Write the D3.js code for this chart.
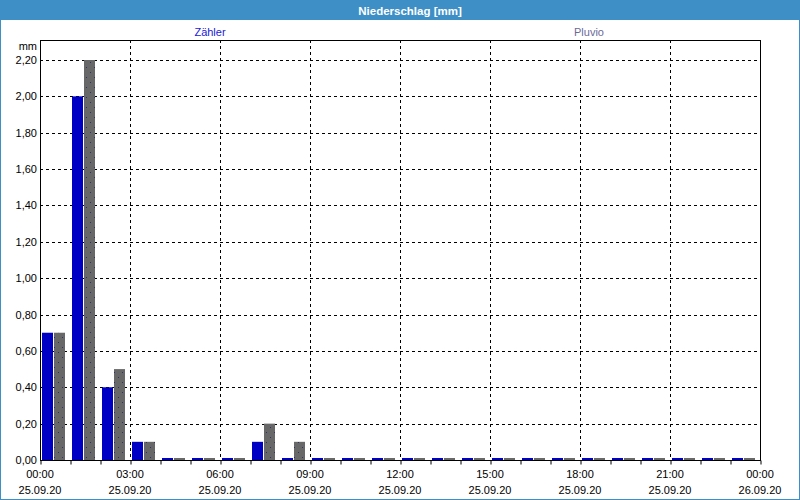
<!DOCTYPE html>
<html><head><meta charset="utf-8">
<script src="https://cdn.jsdelivr.net/npm/d3@7"></script>
<style>
html,body{margin:0;padding:0;background:#fff;}
svg{display:block;font-family:"Liberation Sans",Arial,sans-serif;}
</style></head>
<body><svg id="c" width="800" height="500"></svg>
<script>
const title = "Niederschlag [mm]";
const unitLabel = "mm";
const seriesNames = ["Zähler", "Pluvio"];
const hours = d3.range(0, 24);
const zaehler = [0.7, 2.0, 0.4, 0.1, 0, 0, 0, 0.1, 0, 0, 0, 0, 0, 0, 0, 0, 0, 0, 0, 0, 0, 0, 0, 0];
const pluvio  = [0.7, 2.2, 0.5, 0.1, 0, 0, 0, 0.2, 0.1, 0, 0, 0, 0, 0, 0, 0, 0, 0, 0, 0, 0, 0, 0, 0];
const yTicks = [0, 0.2, 0.4, 0.6, 0.8, 1.0, 1.2, 1.4, 1.6, 1.8, 2.0, 2.2];
const xTickHours = [0, 3, 6, 9, 12, 15, 18, 21, 24];
const xTimeLabels = ["00:00","03:00","06:00","09:00","12:00","15:00","18:00","21:00","00:00"];
const xDateLabels = ["25.09.20","25.09.20","25.09.20","25.09.20","25.09.20","25.09.20","25.09.20","25.09.20","26.09.20"];

const W = 800, H = 500;
const L = 40, R = 760, T = 40, B = 460;
const svg = d3.select("#c");
const frameBlue = "#3d8fc6";

// defs: dotted pattern for Pluvio bars
const defs = svg.append("defs");
const pat = defs.append("pattern").attr("id","dots").attr("patternUnits","userSpaceOnUse")
  .attr("width",8).attr("height",10);
pat.append("rect").attr("width",8).attr("height",10).attr("fill","#686868");
pat.append("rect").attr("x",2).attr("y",2).attr("width",1).attr("height",1).attr("fill","#30306a");
pat.append("rect").attr("x",6).attr("y",7).attr("width",1).attr("height",1).attr("fill","#30306a");

// outer frame + title bar
svg.append("rect").attr("x",0.5).attr("y",0.5).attr("width",W-1).attr("height",H-1)
  .attr("fill","#fff").attr("stroke",frameBlue);
svg.append("rect").attr("x",0).attr("y",0).attr("width",W).attr("height",20).attr("fill",frameBlue);
svg.append("text").attr("x",410).attr("y",14.5).attr("text-anchor","middle")
  .attr("fill","#fff").attr("font-weight","bold").attr("font-size",11.5).text(title);

// legend labels
svg.append("text").attr("x",210).attr("y",35.5).attr("text-anchor","middle")
  .attr("font-size",11).attr("fill","#2020d8").text(seriesNames[0]);
svg.append("text").attr("x",589).attr("y",35.5).attr("text-anchor","middle")
  .attr("font-size",11).attr("fill","#6a6a9a").text(seriesNames[1]);

const x = d3.scaleLinear().domain([0,24]).range([L,R]);
const y = d3.scaleLinear().domain([0,2.31]).range([B,T]);

// grid
const g = svg.append("g");
g.selectAll(".hg").data(yTicks.filter(v=>v>0)).join("line")
  .attr("x1",L).attr("x2",R)
  .attr("y1",d=>Math.round(y(d))+0.5).attr("y2",d=>Math.round(y(d))+0.5)
  .attr("stroke","#000").attr("stroke-dasharray","3,3");
g.selectAll(".vg").data(xTickHours.filter(v=>v>0&&v<24)).join("line")
  .attr("y1",T).attr("y2",B)
  .attr("x1",d=>Math.round(x(d))+0.5).attr("x2",d=>Math.round(x(d))+0.5)
  .attr("stroke","#000").attr("stroke-dasharray","3,3");

// bars
const bw = 11;
const barH = v => Math.max(B - y(v), 2);
svg.append("g").selectAll("rect").data(hours).join("rect")
  .attr("x",h=>x(h)+2).attr("width",bw)
  .attr("y",h=>B-barH(zaehler[h])).attr("height",h=>barH(zaehler[h]))
  .attr("fill","#0000c4");
svg.append("g").selectAll("rect").data(hours).join("rect")
  .attr("x",h=>x(h)+14).attr("width",bw)
  .attr("y",h=>B-barH(pluvio[h])).attr("height",h=>barH(pluvio[h]))
  .attr("fill","url(#dots)");

// plot border
svg.append("rect").attr("x",L+0.5).attr("y",T+0.5).attr("width",R-L).attr("height",B-T)
  .attr("fill","none").attr("stroke","#000");

// x axis: hourly ticks
const xAxis = d3.axisBottom(x).tickValues(d3.range(0,25)).tickSize(4).tickFormat("");
const xa = svg.append("g").attr("transform",`translate(0.5,${B+0.5})`).call(xAxis);
xa.select(".domain").remove();
xa.selectAll("line").attr("stroke","#000");

// x labels
const xl = svg.append("g").attr("font-size",11).attr("fill","#000").attr("text-anchor","middle");
xl.selectAll(".t").data(xTickHours).join("text").attr("x",d=>x(d)).attr("y",478).text((d,i)=>xTimeLabels[i]);
xl.selectAll(".d").data(xTickHours).join("text").attr("x",d=>x(d)).attr("y",494).text((d,i)=>xDateLabels[i]);

// y labels
const fmt = v => d3.format(".2f")(v).replace(".",",");
const yl = svg.append("g").attr("font-size",11).attr("fill","#000").attr("text-anchor","end");
yl.selectAll("text").data(yTicks).join("text").attr("x",37).attr("y",d=>y(d)+4).text(fmt);
yl.append("text").attr("x",37).attr("y",50).text(unitLabel);
</script>
</body></html>
